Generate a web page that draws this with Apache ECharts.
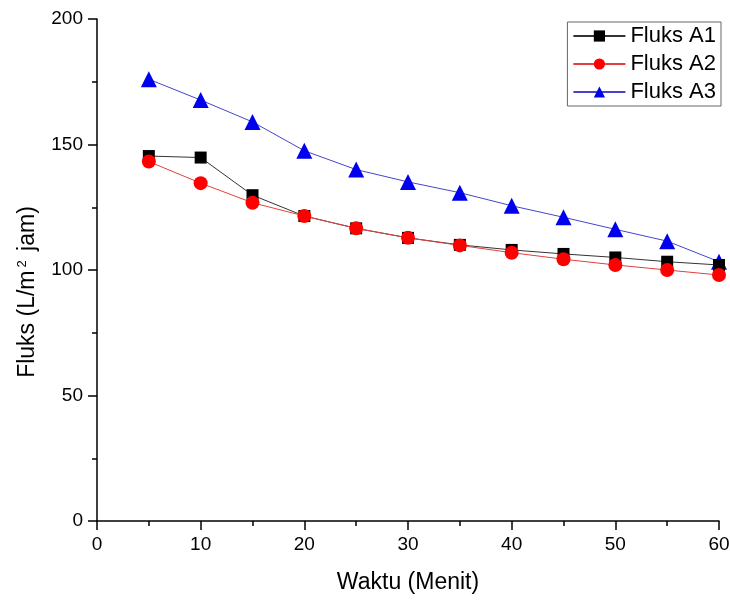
<!DOCTYPE html>
<html>
<head>
<meta charset="utf-8">
<script src="https://cdn.jsdelivr.net/npm/echarts@6/dist/echarts.min.js"></script>
<style>
  html, body { margin: 0; padding: 0; background: #fff; }
  #chart { width: 730px; height: 600px; }
</style>
</head>
<body>
<div id="chart"></div>
<script>
// waktu (menit)
const waktu = [5, 10, 15, 20, 25, 30, 35, 40, 45, 50, 55, 60]
const fluksA1 = [145.4, 144.8, 129.8, 121.5, 116.6, 112.8, 110, 108, 106.4, 105, 103.3, 102]
const fluksA2 = [143.2, 134.6, 126.8, 121.5, 116.6, 112.8, 109.8, 106.9, 104.3, 102, 100, 98]
const fluksA3 = [176, 167.7, 159, 147.5, 140, 135.1, 130.8, 125.6, 121, 116.2, 111.5, 103.3]

const chart = echarts.init(document.getElementById('chart'))

function pairs(ys) {
  return waktu.map((x, i) => [x, ys[i]])
}

const axisText = { color: '#000', fontFamily: 'Liberation Sans', fontSize: 19 }
const nameText = { color: '#000', fontFamily: 'Liberation Sans', fontSize: 23 }
const tickLine = { color: '#000', width: 1.5 }

const option = {
  animation: false,
  textStyle: { fontFamily: 'Liberation Sans' },
  grid: { left: 97, right: 11, top: 19, bottom: 79, outerBoundsMode: 'none' },
  legend: {
    orient: 'vertical',
    right: 9,
    top: 22,
    itemWidth: 52,
    itemHeight: 14,
    itemGap: 6,
    padding: [3, 5, 3, 5],
    borderColor: '#666',
    borderWidth: 1,
    borderRadius: 0,
    textStyle: { color: '#000', fontSize: 22, fontFamily: 'Liberation Sans' },
    data: ['Fluks A1', 'Fluks A2', 'Fluks A3']
  },
  xAxis: {
    type: 'value',
    min: 0,
    max: 60,
    interval: 10,
    name: 'Waktu (Menit)',
    nameLocation: 'middle',
    nameGap: 50,
    nameTextStyle: nameText,
    axisLine: { lineStyle: tickLine },
    axisTick: { length: 9, lineStyle: tickLine },
    minorTick: { show: true, splitNumber: 2, length: 5, lineStyle: tickLine },
    axisLabel: Object.assign({ margin: 14 }, axisText),
    splitLine: { show: false }
  },
  yAxis: {
    type: 'value',
    min: 0,
    max: 200,
    interval: 50,
    name: '{a|Fluks (L/m}{sup|2}{a| jam)}',
    nameLocation: 'middle',
    nameGap: 58,
    nameTextStyle: Object.assign({
      padding: [0, 44, 0, 0],
      rich: {
        a: { fontSize: 23, fontFamily: 'Liberation Sans', color: '#000' },
        sup: { fontSize: 13, fontFamily: 'Liberation Sans', color: '#000', verticalAlign: 'top', padding: [0, 3, 10, 3] }
      }
    }, nameText),
    axisLine: { show: true, lineStyle: tickLine },
    axisTick: { show: true, length: 9, lineStyle: tickLine },
    minorTick: { show: true, splitNumber: 2, length: 5, lineStyle: tickLine },
    axisLabel: Object.assign({ margin: 14 }, axisText),
    splitLine: { show: false }
  },
  series: [
    {
      name: 'Fluks A1',
      type: 'line',
      data: pairs(fluksA1),
      symbol: 'rect',
      symbolSize: 12,
      color: '#000',
      lineStyle: { width: 1, color: '#333' },
      z: 3
    },
    {
      name: 'Fluks A2',
      type: 'line',
      data: pairs(fluksA2),
      symbol: 'circle',
      symbolSize: 14,
      color: '#ff0000',
      lineStyle: { width: 1, color: '#e04040' },
      z: 4
    },
    {
      name: 'Fluks A3',
      type: 'line',
      data: pairs(fluksA3),
      symbol: 'triangle',
      symbolSize: 16,
      color: '#0000ee',
      lineStyle: { width: 1, color: '#4444cc' },
      z: 2
    }
  ]
}

chart.setOption(option)
</script>
</body>
</html>
